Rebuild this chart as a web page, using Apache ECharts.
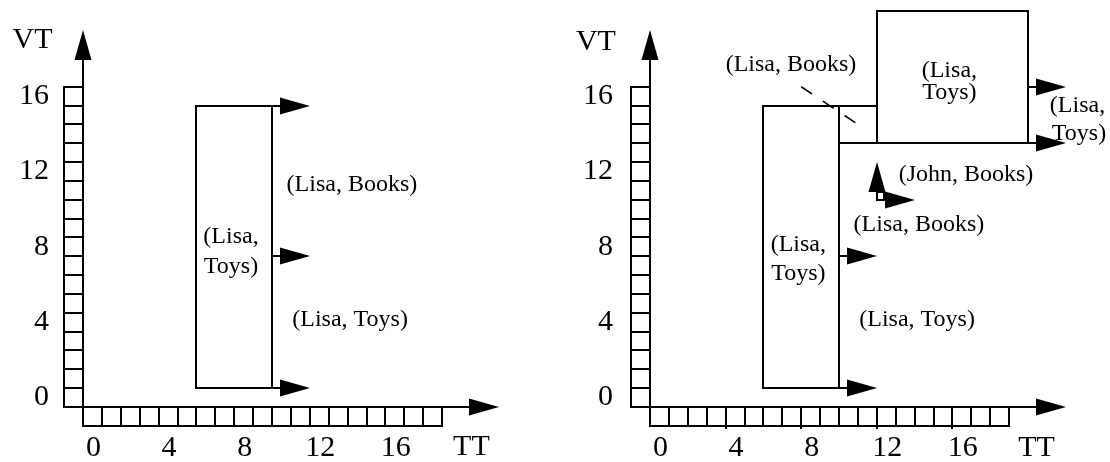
<!DOCTYPE html>
<html><head><meta charset="utf-8">
<script src="https://cdn.jsdelivr.net/npm/echarts@6/dist/echarts.min.js"></script>
<style>html,body{margin:0;padding:0;background:#fff}#c{width:1110px;height:462px}</style>
</head><body><div id="c"></div>
<script>
// ---------------- data ----------------
const ttTicks = [0, 4, 8, 12, 16];
const vtTicks = [0, 4, 8, 12, 16];
const ttCells = 19;     // chronons drawn along TT
const vtCells = 17;     // chronons drawn along VT
const ttAxisEnd = 22;
const vtAxisEnd = 20;
const rightTickMarks = [4, 8, 12, 16];   // small tick marks under TT cells (right panel)

// axis names: [text, TT, VT]
const leftNames  = [['VT', -2.67, 19.45], ['TT', 20.55, -2.15]];
const rightNames = [['VT', -2.86, 19.38], ['TT', 20.45, -2.2]];

// regions: [ttStart, ttEnd, vtStart, vtEnd]
const leftRegions  = [[6, 10, 1, 16]];
const rightRegions = [[6, 10, 1, 16], [10, 12, 14, 16], [12, 20, 14, 21], [12, 12.4, 11, 11.4]];

// arrows: [fromTT, fromVT, toTT, toVT]
const leftArrows  = [[10, 16, 12, 16], [10, 8, 12, 8], [10, 1, 12, 1]];
const rightArrows = [[20, 17, 22, 17], [10, 14, 22, 14], [10, 8, 12, 8], [10, 1, 12, 1],
                     [12, 11.4, 12, 13], [12.4, 11, 14, 11]];

// dashed leader lines: [fromTT, fromVT, toTT, toVT]
const rightLeaders = [[8, 17, 11, 15]];

// labels: [text, TT, VT]
const leftLabels = [
  ['(Lisa,', 7.83, 9.05], ['Toys)', 7.83, 7.46],
  ['(Lisa, Books)', 14.23, 11.8],
  ['(Lisa, Toys)', 14.13, 4.62]
];
const rightLabels = [
  ['(Lisa, Books)', 7.46, 18.18],
  ['(Lisa,', 15.84, 17.87], ['Toys)', 15.84, 16.67],
  ['(Lisa,', 22.62, 15.98], ['Toys)', 22.7, 14.49],
  ['(John, Books)', 16.72, 12.33],
  ['(Lisa, Books)', 14.23, 9.67],
  ['(Lisa,', 7.85, 8.61], ['Toys)', 7.85, 7.06],
  ['(Lisa, Toys)', 14.13, 4.62]
];

// ---------------- rendering ----------------
const FONT = '"Liberation Serif", "Times New Roman", serif';
const UX = 18.9, UY = 18.84;
const baseY = 407;
const panels = [
  { left: 83,  names: leftNames,  regions: leftRegions,  arrows: leftArrows,  leaders: [],           labels: leftLabels,  tickGap: 15, marks: [] },
  { left: 650, names: rightNames, regions: rightRegions, arrows: rightArrows, leaders: rightLeaders, labels: rightLabels, tickGap: 18, marks: rightTickMarks }
];

const black = '#000';
const R = v => Math.round(v);
function pt(api, v) { const p = api.coord(v); return [R(p[0]), R(p[1])]; }
function lineEl(p, q, extra) {
  return { type: 'line', shape: { x1: p[0], y1: p[1], x2: q[0], y2: q[1] },
           style: Object.assign({ stroke: black, lineWidth: 2 }, extra || {}) };
}
function rectEl(p0, p1, fill) {
  return { type: 'rect', shape: { x: Math.min(p0[0], p1[0]), y: Math.min(p0[1], p1[1]),
           width: Math.abs(p1[0] - p0[0]), height: Math.abs(p1[1] - p0[1]) },
           style: { fill: fill, stroke: black, lineWidth: 2 } };
}
function arrowEls(a, b, api) {
  const p = pt(api, a), q = pt(api, b);
  const dx = q[0] - p[0], dy = q[1] - p[1], len = Math.hypot(dx, dy);
  const ux = dx / len, uy = dy / len, L = 30, W = 8.5;
  const bx = q[0] - ux * L, by = q[1] - uy * L;
  const els = [];
  if (len > L) els.push(lineEl(p, [bx + ux, by + uy]));
  els.push({ type: 'polygon', shape: { points: [[q[0], q[1]], [bx - uy * W, by + ux * W], [bx + uy * W, by - ux * W]] },
             style: { fill: black } });
  return els;
}
function textEl(text, x, y, size, align) {
  return { type: 'text', x: x, y: y,
           style: { text: text, font: size + 'px ' + FONT, fill: black,
                    textAlign: align || 'center', textVerticalAlign: 'middle',
                    align: align || 'center', verticalAlign: 'middle' } };
}

const series = [];
panels.forEach((P, k) => {
  const common = { type: 'custom', coordinateSystem: 'cartesian2d', xAxisIndex: k, yAxisIndex: k,
                   silent: true, animation: false, clip: false };
  // cells along TT and VT
  const cellData = [];
  for (let i = 0; i < ttCells; i++) cellData.push([0, i]);
  for (let j = 0; j < vtCells; j++) cellData.push([1, j]);
  series.push(Object.assign({}, common, {
    z: 1, data: cellData,
    renderItem: (params, api) => {
      const kind = api.value(0), i = api.value(1);
      const p0 = kind === 0 ? pt(api, [i, 0]) : pt(api, [-1, i]);
      const p1 = kind === 0 ? pt(api, [i + 1, -1]) : pt(api, [0, i + 1]);
      return rectEl(p0, p1, '#fff');
    }
  }));
  // small tick marks under TT cells
  if (P.marks.length) series.push(Object.assign({}, common, {
    z: 2, data: P.marks.map(v => [v, -1]),
    renderItem: (params, api) => {
      const p = pt(api, [api.value(0), api.value(1)]);
      return lineEl([p[0], p[1] - 2], [p[0], p[1] + 3]);
    }
  }));
  // axes with arrows
  series.push(Object.assign({}, common, {
    z: 2, data: [[0, ttAxisEnd], [1, vtAxisEnd]],
    renderItem: (params, api) => {
      const kind = api.value(0), end = api.value(1);
      const els = kind === 0 ? arrowEls([-1, 0], [end, 0], api) : arrowEls([0, 0], [0, end], api);
      return { type: 'group', children: els };
    }
  }));
  // tick labels
  const tickData = ttTicks.map(v => [0, v]).concat(vtTicks.map(v => [1, v]));
  series.push(Object.assign({}, common, {
    z: 3, data: tickData,
    renderItem: (params, api) => {
      const kind = api.value(0), v = api.value(1);
      if (kind === 0) {
        const p = api.coord([v + 0.5, -1]);
        return textEl(String(v), p[0] + 1, p[1] + 22, 30, 'center');
      }
      const p = api.coord([-1, v + 0.5]);
      return textEl(String(v), p[0] - P.tickGap, p[1], 30, 'right');
    }
  }));
  // axis names
  series.push(Object.assign({}, common, {
    z: 3, data: P.names.map(n => [n[1], n[2]]),
    renderItem: (params, api) => {
      const p = api.coord([api.value(0), api.value(1)]);
      return textEl(P.names[params.dataIndex][0], p[0], p[1], 30, 'center');
    }
  }));
  // regions
  series.push(Object.assign({}, common, {
    z: 4, data: P.regions, encode: { x: [0, 1], y: [2, 3] },
    renderItem: (params, api) => rectEl(pt(api, [api.value(0), api.value(2)]),
                                        pt(api, [api.value(1), api.value(3)]), 'rgba(0,0,0,0)')
  }));
  // arrows
  series.push(Object.assign({}, common, {
    z: 5, data: P.arrows, encode: { x: [0, 2], y: [1, 3] },
    renderItem: (params, api) => ({ type: 'group',
      children: arrowEls([api.value(0), api.value(1)], [api.value(2), api.value(3)], api) })
  }));
  // dashed leaders
  if (P.leaders.length) series.push(Object.assign({}, common, {
    z: 5, data: P.leaders, encode: { x: [0, 2], y: [1, 3] },
    renderItem: (params, api) => lineEl(api.coord([api.value(0), api.value(1)]),
                                        api.coord([api.value(2), api.value(3)]),
                                        { lineWidth: 1.6, lineDash: [13, 13] })
  }));
  // labels
  series.push(Object.assign({}, common, {
    z: 6, data: P.labels.map(l => [l[1], l[2]]),
    renderItem: (params, api) => {
      const p = api.coord([api.value(0), api.value(1)]);
      return textEl(P.labels[params.dataIndex][0], p[0], p[1], 24, 'center');
    }
  }));
});

const chart = echarts.init(document.getElementById('c'), null, { renderer: 'canvas' });
chart.setOption({
  backgroundColor: '#fff',
  animation: false,
  grid: panels.map(P => ({ left: P.left, top: baseY - 21 * UY, width: 22 * UX, height: 21 * UY })),
  xAxis: panels.map((P, k) => ({ gridIndex: k, type: 'value', min: 0, max: 22, show: false })),
  yAxis: panels.map((P, k) => ({ gridIndex: k, type: 'value', min: 0, max: 21, show: false })),
  series: series
});
</script>
</body></html>
